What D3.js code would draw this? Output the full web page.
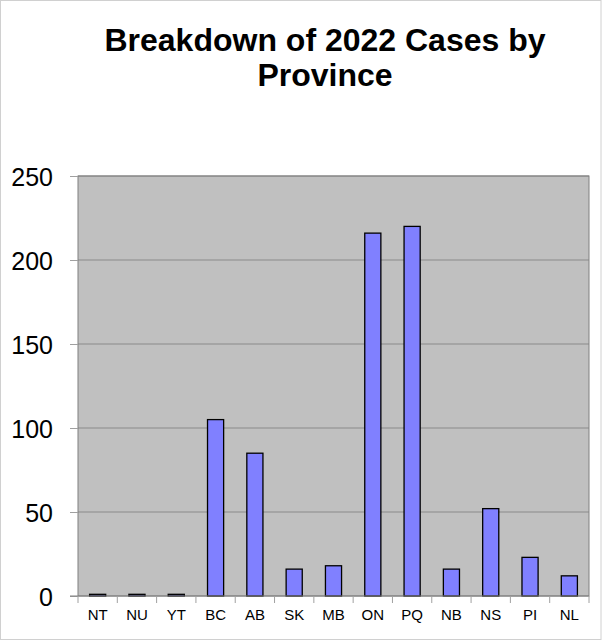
<!DOCTYPE html>
<html><head><meta charset="utf-8">
<script src="https://cdn.jsdelivr.net/npm/d3@7"></script>
<style>body{margin:0;background:#fff;}svg{display:block;font-family:"Liberation Sans",Arial,sans-serif;}</style>
</head><body>
<script>
const categories = ["NT","NU","YT","BC","AB","SK","MB","ON","PQ","NB","NS","PI","NL"];
const values = [1,1,1,105,85,16,18,216,220,16,52,23,12];
const yTicks = [0,50,100,150,200,250];
const titleLines = ["Breakdown of 2022 Cases by","Province"];

(function(){
const W = 602, H = 640;
const pL = 78, pR = 589, pT = 176, pB = 596;
const svg = d3.select("body").append("svg").attr("width", W).attr("height", H);

svg.append("rect").attr("x",0.5).attr("y",0.5).attr("width",W-1.5).attr("height",H-1)
  .attr("fill","#fff").attr("stroke","#d0d0d0");

const x = d3.scaleBand().domain(categories).range([pL,pR]).paddingInner(0).paddingOuter(0);
const y = d3.scaleLinear().domain([0,250]).range([pB,pT]);

svg.append("rect").attr("x",pL).attr("y",pT).attr("width",pR-pL).attr("height",pB-pT)
  .attr("fill","#c0c0c0");

svg.append("g").selectAll("line").data(yTicks.filter(d=>d>0)).join("line")
  .attr("x1",pL).attr("x2",pR).attr("y1",d=>y(d)).attr("y2",d=>y(d))
  .attr("stroke","#8a8a8a").attr("stroke-width",1);

svg.append("rect").attr("x",pL).attr("y",pT).attr("width",pR-pL).attr("height",pB-pT)
  .attr("fill","none").attr("stroke","#808080").attr("stroke-width",1);

const bw = x.bandwidth()*0.41;
svg.append("g").selectAll("rect").data(values).join("rect")
  .attr("x",(d,i)=>x(categories[i])+x.bandwidth()/2-bw/2)
  .attr("y",d=>y(d))
  .attr("width",bw)
  .attr("height",d=>y(0)-y(d))
  .attr("fill","#8080ff").attr("stroke","#000").attr("stroke-width",1.3);

const ya = svg.append("g").attr("transform",`translate(${pL},0)`)
  .call(d3.axisLeft(y).tickValues(yTicks).tickSize(8).tickPadding(17));
ya.select(".domain").remove();
ya.selectAll(".tick line").attr("stroke","#a0a0a0");
ya.selectAll(".tick text").attr("font-size","25px").attr("fill","#000").attr("dy","0.36em")
  .attr("font-family","Liberation Sans, Arial, sans-serif");

const xa = svg.append("g").attr("transform",`translate(0,${pB})`);
xa.append("line").attr("x1",pL-8).attr("x2",pR).attr("stroke","#808080");
xa.selectAll("line.t").data(d3.range(categories.length+1)).join("line").attr("class","t")
  .attr("x1",i=>pL+i*x.step()).attr("x2",i=>pL+i*x.step()).attr("y1",0).attr("y2",7)
  .attr("stroke","#a0a0a0");
xa.selectAll("text").data(categories).join("text")
  .attr("x",d=>x(d)+x.bandwidth()/2).attr("y",24)
  .attr("text-anchor","middle").attr("font-size","15px").attr("fill","#000").text(d=>d);

svg.append("g").selectAll("text").data(titleLines).join("text")
  .attr("x",325).attr("y",(d,i)=>51+i*35).attr("text-anchor","middle")
  .attr("font-size","32px").attr("font-weight","bold").attr("fill","#000").text(d=>d);
})();
</script>
</body></html>
